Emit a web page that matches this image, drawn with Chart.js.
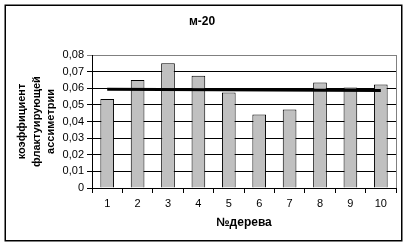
<!DOCTYPE html>
<html>
<head>
<meta charset="utf-8">
<script src="https://cdn.jsdelivr.net/npm/chart.js@4/dist/chart.umd.min.js"></script>
<style>
  html, body { margin: 0; padding: 0; background: #fff; }
  canvas { display: block; }
</style>
</head>
<body>
<canvas id="c" width="408" height="246"></canvas>
<script>
// Tree numbers along the horizontal axis
const treeNumbers = ['1', '2', '3', '4', '5', '6', '7', '8', '9', '10'];
// Fluctuating asymmetry coefficient per tree
const asymmetryValues = [0.0536, 0.065, 0.075, 0.0675, 0.0575, 0.0442, 0.0472, 0.0635, 0.0605, 0.0623];
// Average level line: drawn from the first tree to the last
const averageLine = [0.0594, null, null, null, null, null, null, null, null, 0.0586];
// Vertical axis tick labels (decimal comma)
const yTickLabels = ['0', '0,01', '0,02', '0,03', '0,04', '0,05', '0,06', '0,07', '0,08'];

const FONT = "'Liberation Sans', Arial, sans-serif";

// Frame around the whole chart and the grey plot-area edge on the right
const framePlugin = {
  id: 'frame',
  afterDraw(chart) {
    const ctx = chart.ctx;
    const a = chart.chartArea;
    ctx.save();
    ctx.strokeStyle = '#808080';
    ctx.lineWidth = 1;
    ctx.beginPath();
    ctx.moveTo(Math.round(a.right) + 0.5, a.top);
    ctx.lineTo(Math.round(a.right) + 0.5, a.bottom);
    ctx.stroke();
    ctx.strokeStyle = '#000';
    ctx.lineWidth = 1.5;
    ctx.strokeRect(5.25, 5.25, 396.5, 235.5);
    ctx.restore();
  }
};

new Chart(document.getElementById('c'), {
  type: 'bar',
  data: {
    labels: treeNumbers,
    datasets: [
      {
        type: 'line',
        data: averageLine,
        spanGaps: true,
        borderColor: '#000',
        borderWidth: 3,
        pointRadius: 0,
        fill: false,
        order: 0
      },
      {
        data: asymmetryValues,
        backgroundColor: '#c0c0c0',
        borderColor: '#000',
        borderWidth: 1,
        barPercentage: 0.45,
        categoryPercentage: 1,
        order: 1
      }
    ]
  },
  options: {
    responsive: false,
    animation: false,
    devicePixelRatio: 1,
    layout: { padding: { left: 8, right: 12, top: 0, bottom: 0 } },
    plugins: {
      legend: { display: false },
      tooltip: { enabled: false },
      title: {
        display: true,
        text: 'м-20',
        color: '#000',
        font: { family: FONT, size: 12, weight: 'bold' },
        padding: { top: 14.8, bottom: 25.8 }
      }
    },
    scales: {
      x: {
        offset: true,
        grid: {
          offset: true,
          drawOnChartArea: false,
          drawTicks: true,
          tickLength: 5,
          color: '#000'
        },
        border: { color: '#000', width: 1 },
        ticks: {
          color: '#000',
          padding: 4.5,
          maxRotation: 0,
          font: { family: FONT, size: 11 }
        },
        title: {
          display: true,
          text: '№дерева',
          color: '#000',
          font: { family: FONT, size: 12, weight: 'bold' },
          padding: { top: 0, bottom: 16.3 }
        },
        afterFit(scale) { scale.height = 58; }
      },
      y: {
        min: 0,
        max: 0.08,
        ticks: {
          stepSize: 0.01,
          color: '#000',
          padding: 3,
          font: { family: FONT, size: 11 },
          callback: (v, i) => yTickLabels[i]
        },
        grid: {
          color: (c) => (c.tick && c.tick.value >= 0.0799 ? '#808080' : '#000'),
          tickLength: 5,
          drawTicks: true
        },
        border: { color: '#000', width: 1 },
        title: {
          display: true,
          text: ['коэффициент', 'флактуирующей', 'ассиметрии'],
          color: '#000',
          font: { family: FONT, size: 11, weight: 'bold', lineHeight: 1.32 },
          padding: { top: 6.7, bottom: 0 }
        },
        afterFit(scale) { scale.width = 84; }
      }
    }
  },
  plugins: [framePlugin]
});
</script>
</body>
</html>
